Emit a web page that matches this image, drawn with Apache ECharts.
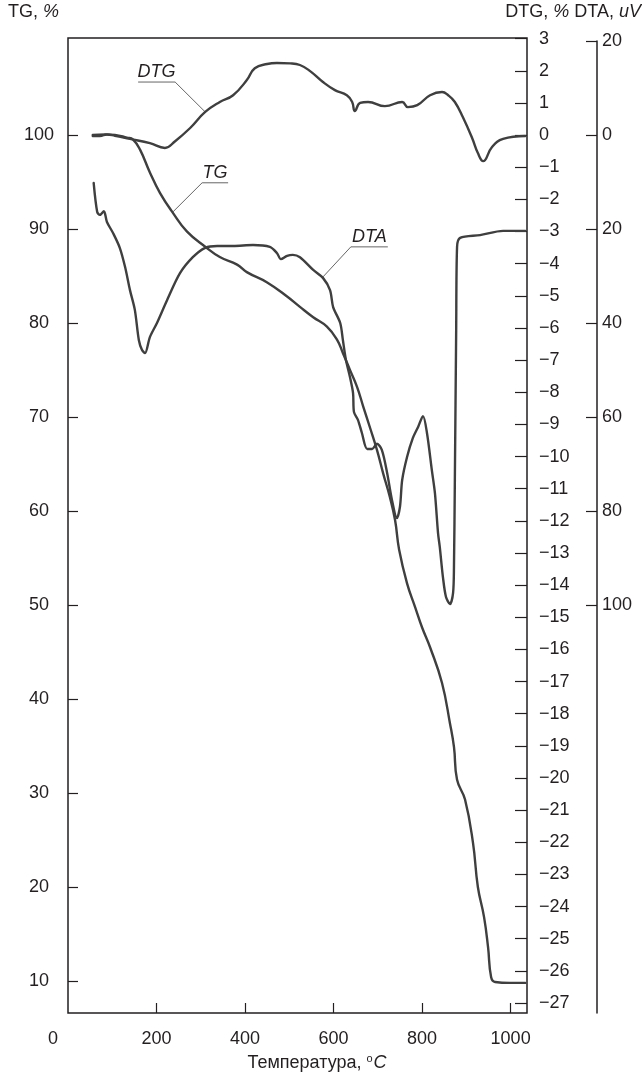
<!DOCTYPE html>
<html><head><meta charset="utf-8">
<script src="https://cdn.jsdelivr.net/npm/echarts@6/dist/echarts.min.js"></script>
<style>html,body{margin:0;padding:0;background:#fff}#c{width:642px;height:1077px}</style>
</head><body><div id="c"></div>
<script>
// ---- data ----
const tgTemp  = [56,84,106,133,147,163,185,208,237,269,310,343,382,404,450,495,524,554,585,608,621,637,653,667,682,698,712,727,739,748,766,784,800,818,845,863,872,879,897,915,926,940,949,956,965,999,1033];
const tgValues = [100,100.05,100,99.7,99.5,98.4,96.0,93.8,91.7,89.7,88.1,87.0,86.2,85.4,84.3,82.8,81.7,80.6,79.6,78.2,76.8,75.0,73.2,71.1,68.9,66.5,64.0,61.5,59.0,55.9,52.3,49.8,47.6,45.5,41.7,37.4,34.9,31.4,29.3,24.7,20.0,16.8,13.6,10.4,9.9,9.8,9.8];

const dtgTemp  = [56,72,88,106,140,185,219,242,276,310,343,373,404,422,450,472,502,524,547,576,603,630,642,648,660,678,716,755,768,789,818,845,859,874,892,913,926,938,958,983,1033];
const dtgValues = [-0.03,-0.03,0.02,-0.02,-0.12,-0.25,-0.40,-0.19,0.22,0.72,1.03,1.24,1.71,2.08,2.21,2.24,2.23,2.18,1.99,1.65,1.40,1.24,1.03,0.75,1.00,1.03,0.90,1.03,0.87,0.93,1.24,1.34,1.24,1.03,0.56,-0.09,-0.56,-0.81,-0.37,-0.12,-0.03];

const dtaTemp  = [58,66,72,81,88,102,117,129,140,151,160,167,174,185,201,224,253,282,310,337,373,418,456,472,481,495,508,524,554,576,592,599,615,621,628,637,644,646,655,664,676,687,698,709,721,732,743,750,755,766,779,791,802,811,822,829,836,840,847,854,863,870,872,874,877,879,886,931,983,1033];
const dtaValues = [-10.2,-16.4,-17.0,-16.2,-18.5,-20.9,-24.0,-28.1,-33.0,-37.2,-43.6,-45.7,-46.4,-43.0,-40.0,-35.1,-29.4,-26.0,-24.0,-23.6,-23.6,-23.4,-23.8,-25.1,-26.4,-25.7,-25.5,-26.0,-28.7,-30.4,-33.0,-36.6,-40.0,-43.6,-47.9,-51.5,-54.9,-58.9,-60.6,-63.4,-66.8,-66.8,-65.7,-67.0,-71.9,-77.7,-81.5,-79.1,-73.4,-68.5,-64.5,-62.1,-59.8,-63.4,-71.3,-76.2,-84.7,-87.7,-94.0,-98.3,-99.8,-97.4,-91.9,-73.4,-41.5,-23.8,-21.9,-21.3,-20.4,-20.4];

const xTicks   = [200,400,600,800,1000];
const xLabels  = [0,200,400,600,800,1000];
const tgTicks  = [10,20,30,40,50,60,70,80,90,100];
const dtgTicks = [-27,-26,-25,-24,-23,-22,-21,-20,-19,-18,-17,-16,-15,-14,-13,-12,-11,-10,-9,-8,-7,-6,-5,-4,-3,-2,-1,0,1,2,3];
const dtaTicks = [20,0,-20,-40,-60,-80,-100];

// ---- styling ----
const FONT = '"Liberation Sans", Arial, Helvetica, sans-serif';
const INK = '#231f20';
const LINE = '#3f3f3f';
const FS = 18;

const zip = (a, b) => a.map((t, i) => [t, b[i]]);
const minus = v => String(v).replace('-', '\u2212');

const chart = echarts.init(document.getElementById('c'));

const tickStyle = {color: INK, width: 1.2};
const labelBase = {fontSize: FS, color: INK, fontFamily: FONT};

const lineSeries = (name, data, xi, yi, sm) => ({
  type: 'line', name, data, xAxisIndex: xi, yAxisIndex: yi,
  symbol: 'none', showSymbol: false, smooth: sm,
  lineStyle: {color: LINE, width: 2.4, join: 'round', cap: 'round'}, silent: true
});

chart.setOption({
  animation: false,
  textStyle: {fontFamily: FONT},
  grid: [
    {left: 68, right: 115, top: 38, bottom: 64, show: true, borderColor: INK, borderWidth: 1.5, backgroundColor: 'transparent'},
    {left: 68, right: 115, top: 41, bottom: 64, show: false}
  ],
  xAxis: [
    {type: 'value', gridIndex: 0, position: 'bottom', min: 0, max: 1037,
     axisLine: {show: false, onZero: false}, splitLine: {show: false},
     axisTick: {inside: true, length: 10, lineStyle: tickStyle, customValues: xTicks},
     axisLabel: Object.assign({}, labelBase, {customValues: xLabels, margin: 17,
        formatter: v => v === 0 ? '{z|0}' : String(v),
        rich: {z: {padding: [0, 30, 0, 0], fontSize: FS, color: INK, fontFamily: FONT}}})},
    {type: 'value', gridIndex: 1, position: 'bottom', min: 0, max: 1037, show: false, axisLine: {onZero: false}}
  ],
  yAxis: [
    {type: 'value', gridIndex: 0, position: 'left', min: 6.6, max: 110.3,
     axisLine: {show: false, onZero: false}, splitLine: {show: false},
     axisTick: {inside: true, length: 10, lineStyle: tickStyle, customValues: tgTicks},
     axisLabel: Object.assign({}, labelBase, {customValues: tgTicks, align: 'center', margin: 29})},
    {type: 'value', gridIndex: 0, position: 'right', min: -27.31, max: 3.02,
     axisLine: {show: false, onZero: false}, splitLine: {show: false},
     axisTick: {inside: true, length: 12, lineStyle: tickStyle, customValues: dtgTicks},
     axisLabel: Object.assign({}, labelBase, {customValues: dtgTicks, margin: 12, formatter: minus})},
    {type: 'value', gridIndex: 1, position: 'right', offset: 70, min: -186.8, max: 20,
     axisLine: {show: true, onZero: false, lineStyle: {color: INK, width: 1.5}}, splitLine: {show: false},
     axisTick: {show: true, inside: true, length: 11, lineStyle: tickStyle, customValues: dtaTicks},
     axisLabel: Object.assign({}, labelBase, {customValues: dtaTicks, margin: 5, formatter: v => String(Math.abs(v))})}
  ],
  series: [
    lineSeries('TG', zip(tgTemp, tgValues), 0, 0, 0.45),
    lineSeries('DTG', zip(dtgTemp, dtgValues), 0, 1, 0.45),
    lineSeries('DTA', zip(dtaTemp, dtaValues), 1, 2, 0.3)
  ]
});

// ---- annotations (curve anchor and label elbow in data units) ----
const notes = [
  {text: 'DTG', xAxisIndex: 0, yAxisIndex: 1, curve: [310, 0.72], elbow: [242, 1.65], len: 37, dir: -1},
  {text: 'TG',  xAxisIndex: 0, yAxisIndex: 0, curve: [237, 91.8], elbow: [303, 94.9], len: 26, dir: 1},
  {text: 'DTA', xAxisIndex: 1, yAxisIndex: 2, curve: [576, -30.2], elbow: [639, -23.8], len: 37, dir: 1}
];
const g = [];
notes.forEach(n => {
  const f = {xAxisIndex: n.xAxisIndex, yAxisIndex: n.yAxisIndex};
  const c = chart.convertToPixel(f, n.curve);
  const e = chart.convertToPixel(f, n.elbow);
  const x2 = e[0] + n.dir * n.len;
  g.push({type: 'line', silent: true, shape: {x1: c[0], y1: c[1], x2: e[0], y2: e[1]}, style: {stroke: '#555', lineWidth: 0.9}});
  g.push({type: 'line', silent: true, shape: {x1: e[0], y1: e[1], x2: x2, y2: e[1]}, style: {stroke: '#555', lineWidth: 0.9}});
  g.push({type: 'text', silent: true, style: {text: n.text, x: (e[0] + x2) / 2, y: e[1] - 1,
    textAlign: 'center', textVerticalAlign: 'bottom', fontSize: FS, fontStyle: 'italic', fontFamily: FONT, fill: INK}});
});
const rich = {
  i: {fontStyle: 'italic', fontSize: FS, fontFamily: FONT, fill: INK, color: INK},
  s: {fontSize: 11, fontFamily: FONT, color: INK, verticalAlign: 'top', lineHeight: 20, padding: [0, 1, 0, 0]},
  n: {fontSize: FS, fontFamily: FONT, color: INK, lineHeight: 20}
};
g.push({type: 'text', silent: true, style: {text: 'TG, {i|%}', rich, x: 8, y: 12, textVerticalAlign: 'middle', fontSize: FS, fontFamily: FONT, fill: INK}});
g.push({type: 'text', silent: true, style: {text: 'DTG, {i|%} DTA, {i|uV}', rich, x: 641, y: 12, textAlign: 'right', textVerticalAlign: 'middle', fontSize: FS, fontFamily: FONT, fill: INK}});
g.push({type: 'text', silent: true, style: {text: '{n|Температура, }{s|o}{i|C}', rich, x: 317, y: 1063, textAlign: 'center', textVerticalAlign: 'middle', fontSize: FS, fontFamily: FONT, fill: INK}});
chart.setOption({graphic: g});
</script></body></html>
